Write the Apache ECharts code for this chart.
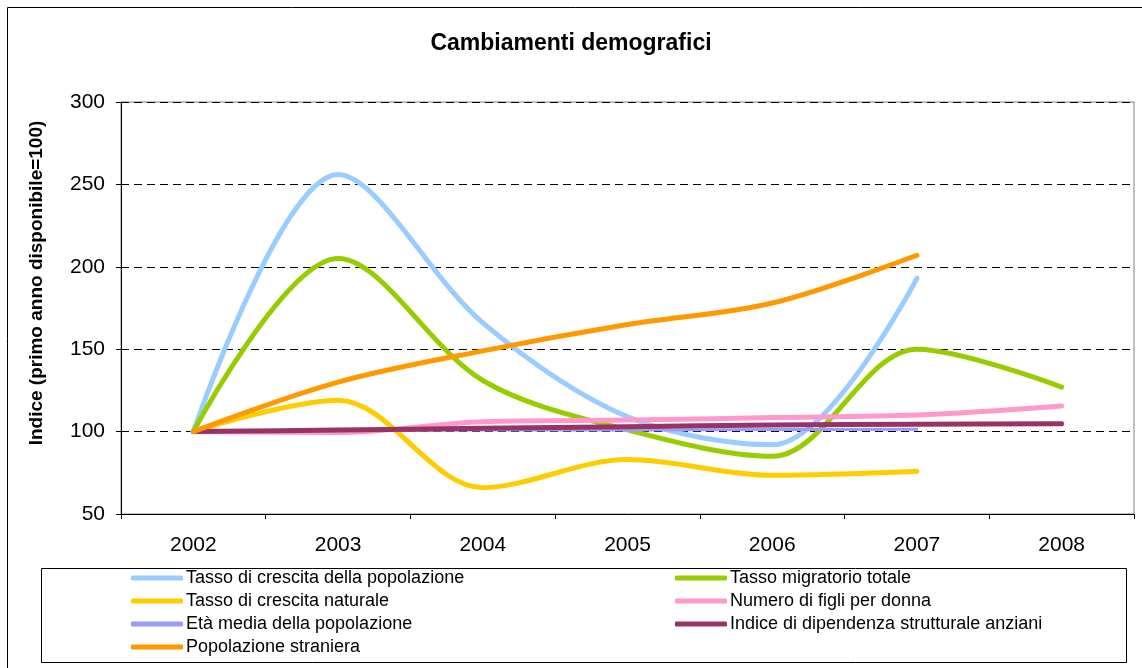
<!DOCTYPE html>
<html>
<head>
<meta charset="utf-8">
<title>Cambiamenti demografici</title>
<script src="https://cdn.jsdelivr.net/npm/echarts@6/dist/echarts.min.js"></script>
<style>
  html, body { margin: 0; padding: 0; background: #fff; }
  #chart { width: 1142px; height: 668px; }
</style>
</head>
<body>
<div id="chart"></div>
<script>
// Years on the category axis
var years = ['2002', '2003', '2004', '2005', '2006', '2007', '2008'];

// Index values (first available year = 100)
var crescitaPopolazione = [100, 256, 166, 109, 92, 193, null];
var migratorioTotale    = [100, 205, 131, 101, 85, 150, 127];
var crescitaNaturale    = [100, 119, 66, 83, 73.5, 76, null];
var figliPerDonna       = [100, 99.5, 106, 107, 108.5, 110, 115.5];
var etaMedia            = [100, 100.5, 101, 101, 101.2, 101.4, null];
var dipendenzaAnziani   = [100, 101, 102, 103, 104, 104.5, 104.8];
var popolazioneStraniera = [100, 130, 149, 165, 178, 207, null];

// Y axis ticks
var yMin = 50, yMax = 300, yStep = 50;

var FONT = '"Liberation Sans", Arial, sans-serif';

function line(name, data, color, width) {
  return {
    name: name,
    type: 'line',
    data: data,
    smooth: 0.33,
    showSymbol: false,
    symbol: 'none',
    connectNulls: false,
    color: color,
    lineStyle: { color: color, width: width, cap: 'round', join: 'round' },
    emphasis: { disabled: true },
    animation: false
  };
}

var chart = echarts.init(document.getElementById('chart'), null, { renderer: 'canvas' });

var legendBase = {
  orient: 'vertical',
  icon: 'roundRect',
  itemWidth: 52,
  itemHeight: 5,
  itemGap: 5,
  selectedMode: false,
  padding: 0,
  textStyle: { fontFamily: FONT, fontSize: 18, lineHeight: 18, color: '#000', padding: [0, 0, 0, -2] }
};

chart.setOption({
  backgroundColor: '#fff',
  animation: false,
  title: {
    text: 'Cambiamenti demografici',
    left: 'center',
    top: 32,
    padding: 0,
    textStyle: { fontFamily: FONT, fontSize: 23, fontWeight: 'bold', color: '#000' }
  },
  grid: {
    left: 121, top: 102, right: 8, bottom: 154,
    show: true,
    borderColor: '#808080',
    borderWidth: 1,
    containLabel: false
  },
  legend: [
    Object.assign({}, legendBase, {
      left: 131, top: 569,
      data: ['Tasso di crescita della popolazione', 'Tasso di crescita naturale',
             'Età media della popolazione', 'Popolazione straniera']
    }),
    Object.assign({}, legendBase, {
      left: 675, top: 569,
      data: ['Tasso migratorio totale', 'Numero di figli per donna',
             'Indice di dipendenza strutturale anziani']
    })
  ],
  xAxis: {
    type: 'category',
    data: years,
    boundaryGap: true,
    axisLine: { lineStyle: { color: '#000', width: 1 } },
    axisTick: { show: true, length: 5, inside: false, alignWithLabel: false, lineStyle: { color: '#000' } },
    axisLabel: { fontFamily: FONT, fontSize: 21, color: '#000', margin: 21 },
    splitLine: { show: false }
  },
  yAxis: {
    type: 'value',
    min: yMin, max: yMax, interval: yStep,
    axisLine: { show: true, lineStyle: { color: '#000', width: 1 } },
    axisTick: { show: true, length: 5, lineStyle: { color: '#000' } },
    axisLabel: { fontFamily: FONT, fontSize: 21, color: '#000', margin: 16 },
    splitLine: { show: true, lineStyle: { color: '#000', type: [8, 5], width: 1 } }
  },
  graphic: [
    {
      type: 'rect', silent: true, z: 0,
      shape: { x: 7.5, y: 7.5, width: 1200, height: 700 },
      style: { fill: 'none', stroke: '#000', lineWidth: 1 }
    },
    {
      type: 'rect', silent: true, z: 0,
      shape: { x: 41.5, y: 568.5, width: 1085, height: 94 },
      style: { fill: 'none', stroke: '#000', lineWidth: 1 }
    },
    {
      type: 'text', silent: true,
      x: 37, y: 283, rotation: Math.PI / 2,
      style: {
        text: 'Indice (primo anno disponibile=100)',
        fontFamily: FONT, fontSize: 19, fontWeight: 'bold', fill: '#000',
        align: 'center', verticalAlign: 'middle'
      }
    }
  ],
  series: [
    line('Tasso di crescita della popolazione', crescitaPopolazione, '#99CCFF', 5),
    line('Tasso migratorio totale', migratorioTotale, '#99CC00', 5),
    line('Tasso di crescita naturale', crescitaNaturale, '#FFCC00', 5),
    line('Numero di figli per donna', figliPerDonna, '#FF99CC', 5),
    line('Età media della popolazione', etaMedia, '#9999FF', 3),
    line('Indice di dipendenza strutturale anziani', dipendenzaAnziani, '#993366', 5),
    line('Popolazione straniera', popolazioneStraniera, '#FF9900', 5)
  ]
});
</script>
</body>
</html>
